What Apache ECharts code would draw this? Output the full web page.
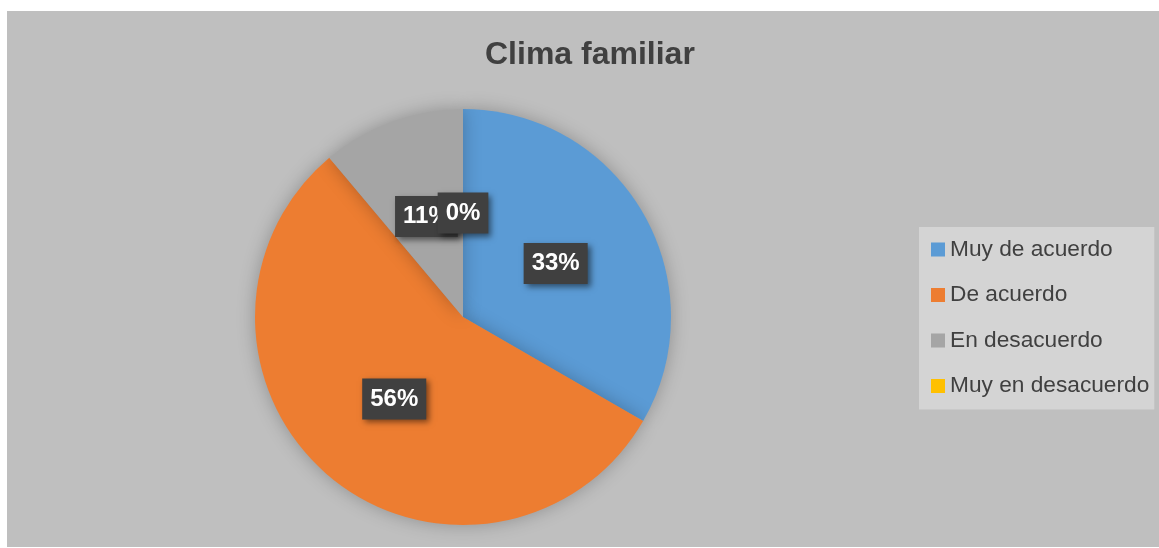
<!DOCTYPE html>
<html><head><meta charset="utf-8">
<script src="https://cdn.jsdelivr.net/npm/echarts@6/dist/echarts.min.js"></script>
<style>
html,body{margin:0;padding:0;background:#fff;width:1159px;height:548px;overflow:hidden}
#bg{position:absolute;left:7px;top:11px;width:1152px;height:536px;background:#bfbfbf}
#chart{position:absolute;left:0;top:0;width:1159px;height:548px}
</style></head>
<body><div id="bg"></div><div id="chart"></div>
<script>
const title = 'Clima familiar';
const categories = ['Muy de acuerdo', 'De acuerdo', 'En desacuerdo', 'Muy en desacuerdo'];
const values = [3, 5, 1, 0];
const colors = ['#5b9bd5', '#ed7d31', '#a5a5a5', '#ffc000'];
const FONT = '"Liberation Sans", Arial, sans-serif';

const labelStyle = {
  fontFamily: FONT, fontSize: 24, fontWeight: 'bold', color: '#fff',
  lineHeight: 24,
  backgroundColor: '#404040',
  padding: [9, 8, 8, 8],
  shadowColor: 'rgba(0,0,0,0.5)', shadowBlur: 6, shadowOffsetX: 3, shadowOffsetY: 3
};

const chart = echarts.init(document.getElementById('chart'));
chart.setOption({
  animation: false,
  color: colors,
  title: {
    text: title, left: 480, top: 34,
    textStyle: {fontFamily: FONT, fontSize: 32, fontWeight: 'bold', color: '#404040'}
  },
  legend: {
    orient: 'vertical', left: 919, top: 227,
    backgroundColor: '#d4d4d4',
    padding: [11, 5, 12, 12],
    itemWidth: 14, itemHeight: 14, itemGap: 22.5, itemTextGap: 6,
    icon: 'rect',
    data: categories,
    textStyle: {fontFamily: FONT, fontSize: 22.7, lineHeight: 22, color: '#404040'}
  },
  series: [{
    type: 'pie',
    center: [463, 317], radius: 208,
    startAngle: 90, clockwise: true,
    avoidLabelOverlap: false,
    percentPrecision: 0,
    itemStyle: {shadowBlur: 18, shadowColor: 'rgba(0,0,0,0.25)'},
    label: Object.assign({show: true, position: 'inside', formatter: '{d}%'}, labelStyle),
    labelLine: {show: false},
    emphasis: {disabled: true},
    data: categories.map((c, i) => ({name: c, value: values[i]}))
  }]
});

// ECharts skips the label of a zero-value sector; add it from the series' own layout.
const seriesModel = chart.getModel().getSeriesByIndex(0);
const sdata = seriesModel.getData();
const extra = [];
sdata.each(function (idx) {
  if (sdata.get('value', idx) !== 0) return;
  const lay = sdata.getItemLayout(idx);
  const mid = (lay.startAngle + lay.endAngle) / 2;
  const rr = ((lay.r0 || 0) + lay.r) / 2;
  const params = seriesModel.getDataParams(idx);
  extra.push({
    type: 'text', z: 100,
    x: lay.cx + rr * Math.cos(mid), y: lay.cy + rr * Math.sin(mid),
    style: Object.assign({text: params.percent + '%', fill: '#fff', align: 'center', verticalAlign: 'middle',
      font: 'bold 24px ' + FONT}, {
      backgroundColor: labelStyle.backgroundColor, padding: labelStyle.padding, lineHeight: 24,
      shadowColor: labelStyle.shadowColor, shadowBlur: labelStyle.shadowBlur,
      shadowOffsetX: labelStyle.shadowOffsetX, shadowOffsetY: labelStyle.shadowOffsetY
    })
  });
});
chart.setOption({graphic: extra});
</script></body></html>
